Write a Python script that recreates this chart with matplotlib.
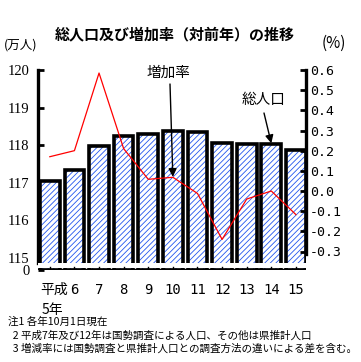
import matplotlib
matplotlib.use("Agg")
import matplotlib.pyplot as plt
from matplotlib.patches import Rectangle

plt.rcParams['font.family'] = ['Noto Sans CJK JP', 'DejaVu Sans']

years = ['平成', '6', '7', '8', '9', '10', '11', '12', '13', '14', '15']
population = [117.05, 117.33, 117.99, 118.24, 118.30, 118.38, 118.36, 118.06, 118.04, 118.04, 117.88]
rate = [0.17, 0.20, 0.585, 0.21, 0.058, 0.068, -0.012, -0.24, -0.04, 0.0, -0.117]
left_ticks = [115, 116, 117, 118, 119, 120]
right_ticks = [-0.3, -0.2, -0.1, 0.0, 0.1, 0.2, 0.3, 0.4, 0.5, 0.6]
notes = ['注1 各年10月1日現在',
         '  2 平成7年及び12年は国勢調査による人口、その他は県推計人口',
         '  3 増減率には国勢調査と県推計人口との調査方法の違いによる差を含む。']

W, H = 361, 362
fig = plt.figure(figsize=(W / 100, H / 100), dpi=100)
fig.patch.set_facecolor('white')

def fx(px):
    return px / W

def fy(py):
    return 1 - py / H

ax_left, ax_right, ax_top, ax_bot = 38, 306, 70, 270
ax = fig.add_axes([fx(ax_left), fy(ax_bot), fx(ax_right) - fx(ax_left), fy(ax_top) - fy(ax_bot)])
ybot = 115 - (270 - 258) / 37.6
ax.set_ylim(ybot, 120)
ax.set_xlim(-0.48, 10.41)

x = list(range(len(years)))
hs = [p - ybot for p in population]
plt.rcParams['hatch.linewidth'] = 0.6
ax.bar(x, hs, bottom=ybot, width=0.8, facecolor='white', edgecolor='#2255ee',
       hatch='//////', linewidth=0, zorder=2)
ax.bar(x, hs, bottom=ybot, width=0.8, facecolor='none', edgecolor='black',
       linewidth=2.6, zorder=3)

# axis break band
brk_lo = 115 - (268 - 258) / 37.6
brk_hi = 115 - (263.5 - 258) / 37.6
ax.add_patch(Rectangle((-0.48, brk_lo), 10.89, brk_hi - brk_lo, facecolor='white',
                       edgecolor='none', zorder=4))
for xi in x:
    ax.plot([xi, xi], [ybot, brk_lo + 0.02], color='black', lw=1, zorder=5)

for s in ['top', 'right', 'bottom']:
    ax.spines[s].set_visible(False)
ax.spines['left'].set_linewidth(2.4)
ax.spines['left'].set_bounds(115 - (263 - 258) / 37.6, 120)
ax.axhline(ybot, color='black', lw=2.5, zorder=6)

ax.set_yticks(left_ticks + [ybot])
ax.set_yticklabels([str(t) for t in left_ticks] + ['0'], family='Liberation Serif', fontsize=10.5)
ax.tick_params(axis='y', direction='in', length=4, width=2, pad=6)
ax.set_xticks([])

ax2 = ax.twinx()
ax2.set_position(ax.get_position())
rtop = 0.6
per = 0.6 / (191 - 70)
ax2.set_ylim(0 - (270 - 191) * per, rtop)
ax2.plot(x, rate, color='red', lw=0.9, zorder=7)
for s in ['top', 'left', 'bottom']:
    ax2.spines[s].set_visible(False)
ax2.spines['right'].set_linewidth(2.4)
ax2.spines['right'].set_bounds(-0.31, 0.6)
ax2.set_yticks(right_ticks)
ax2.set_yticklabels(['%.1f' % t for t in right_ticks], family='DejaVu Sans Mono', fontsize=9.5)
ax2.tick_params(axis='y', direction='in', length=4, width=2, pad=3)
ax2.set_xlim(-0.48, 10.41)

# x labels
for xi, lab in zip(x, years):
    fig.text(fx(50 + 24.6 * xi) + (0.012 if xi == 0 else 0), fy(290), lab, ha='center', va='center',
             fontsize=10, family=['DejaVu Sans Mono', 'Noto Sans CJK JP'] if xi else ['Noto Sans CJK JP'])
fig.text(fx(52), fy(310), '5年', ha='center', va='center', fontsize=10)

fig.text(fx(175), fy(34), '総人口及び増加率（対前年）の推移', ha='center', va='center',
         fontsize=10.8, fontweight='bold')
fig.text(fx(4), fy(45), '(万人)', ha='left', va='center', fontsize=9)
fig.text(fx(334), fy(43), '(%)', ha='center', va='center', fontsize=11)

# annotations
fig.text(fx(168), fy(73), '増加率', ha='center', va='center', fontsize=10.5)
fig.text(fx(264), fy(100), '総人口', ha='center', va='center', fontsize=10.5)
ax2.annotate('', xy=(5.0, 0.07), xytext=(fx(170), fy(84)), textcoords='figure fraction',
             arrowprops=dict(arrowstyle='-|>', color='black', lw=1, mutation_scale=12,
                             shrinkA=0, shrinkB=0), zorder=8)
ax.annotate('', xy=(9.0, 118.05), xytext=(fx(264), fy(113)), textcoords='figure fraction',
            arrowprops=dict(arrowstyle='-|>', color='black', lw=1, mutation_scale=12,
                            shrinkA=0, shrinkB=0), zorder=8)

for i, n in enumerate(notes):
    fig.text(fx(8), fy(322 + 13.5 * i), n, ha='left', va='center', fontsize=7.6)

fig.savefig('out.png', dpi=100, facecolor='white')
